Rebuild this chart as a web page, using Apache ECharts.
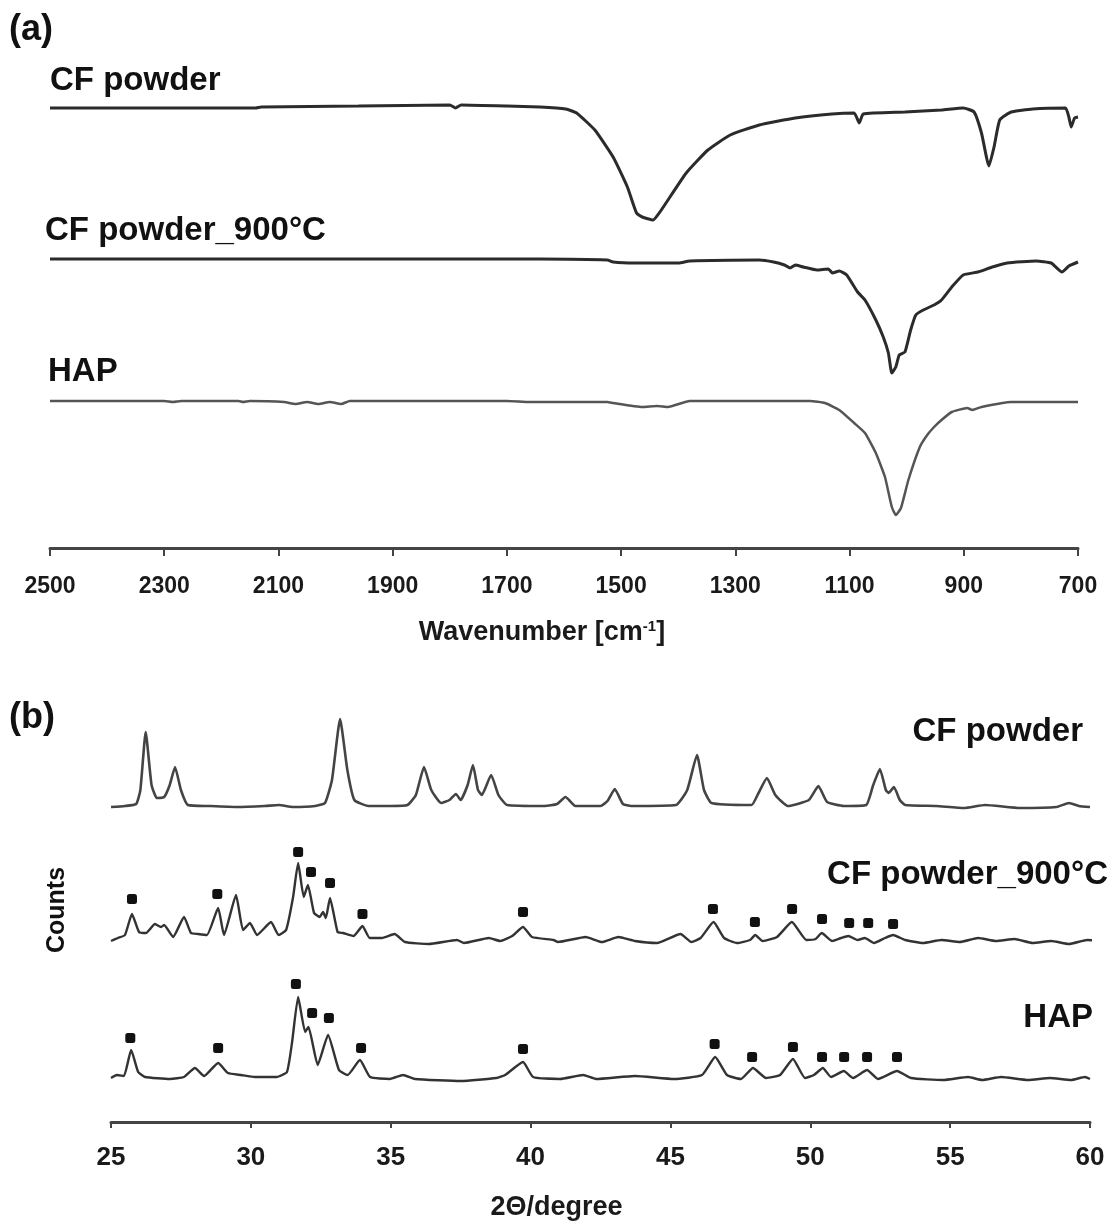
<!DOCTYPE html>
<html>
<head>
<meta charset="utf-8">
<title>FTIR and XRD of CF powder</title>
<script src="https://cdn.jsdelivr.net/npm/echarts@6/dist/echarts.min.js"></script>
<style>
  html, body { margin: 0; padding: 0; background: #fff; }
  #main { width: 1113px; height: 1225px; }
</style>
</head>
<body>
<div id="main"></div>
<script>
// (a) FTIR: [wavenumber cm-1, transmittance a.u.] (curves are stacked)
const ftirCfPowder = [
    [2500, 440], [2300, 440], [2140, 440], [2130, 441], [1960, 442], [1800, 443], [1790, 440],
    [1780, 443], [1700, 442], [1642, 441], [1597, 439], [1578, 435], [1546, 418], [1514, 391],
    [1489, 361], [1473, 335], [1463, 331], [1444, 328], [1432, 336], [1386, 375], [1348, 398],
    [1309, 413], [1258, 423], [1195, 430], [1131, 434], [1092, 435], [1083, 425], [1076, 434],
    [1003, 436], [939, 438], [901, 440], [882, 436], [869, 415], [856, 382], [847, 401],
    [837, 428], [817, 436], [779, 439], [722, 440], [716, 431], [712, 421], [706, 430], [700, 431]
];
const ftirCf900 = [
    [2500, 289], [2200, 289], [1900, 289], [1642, 289], [1524, 288], [1514, 286], [1476, 285],
    [1399, 285], [1380, 287], [1258, 288], [1233, 286], [1214, 283], [1204, 280], [1195, 283],
    [1181, 281], [1157, 278], [1137, 279], [1130, 275], [1118, 277], [1105, 273], [1086, 256],
    [1073, 248], [1054, 228], [1041, 211], [1032, 195], [1026, 175], [1019, 181], [1013, 193],
    [1003, 196], [993, 218], [984, 233], [971, 238], [952, 243], [939, 248], [921, 261],
    [901, 273], [875, 276], [850, 281], [824, 285], [773, 287], [747, 285], [728, 276],
    [716, 282], [700, 286]
];
const ftirHap = [
    [2500, 147], [2300, 147], [2285, 146], [2270, 147], [2170, 147], [2162, 146], [2150, 147],
    [2090, 146], [2070, 144], [2050, 146], [2030, 144], [2010, 146], [1990, 144], [1975, 147],
    [1700, 147], [1660, 146], [1524, 146], [1514, 145], [1463, 141], [1437, 142], [1418, 141],
    [1380, 147], [1169, 147], [1143, 145], [1118, 138], [1092, 125], [1073, 115], [1054, 95],
    [1038, 71], [1026, 41], [1019, 33], [1010, 40], [997, 68], [977, 101], [964, 113],
    [952, 121], [939, 128], [921, 136], [894, 140], [885, 138], [869, 141], [817, 146], [700, 146]
];
const ftirTicks = [2500, 2300, 2100, 1900, 1700, 1500, 1300, 1100, 900, 700];

// (b) XRD: [2theta degree, counts a.u.] (curves are stacked)
const xrdCfPowder = [
    [25.0, 315], [25.5, 316], [25.9, 318], [26.05, 332], [26.24, 390], [26.45, 337], [26.64, 324],
    [26.9, 325], [27.1, 337], [27.29, 355], [27.5, 332], [27.75, 317], [28.5, 316], [29.5, 315],
    [30.5, 316], [31.0, 317], [31.5, 315], [32.3, 316], [32.65, 319], [32.9, 342], [33.19, 403],
    [33.45, 352], [33.7, 322], [34.2, 316], [35.0, 316], [35.6, 317], [35.9, 327], [36.19, 355],
    [36.45, 332], [36.8, 319], [37.1, 322], [37.33, 328], [37.5, 322], [37.75, 337], [37.94, 357],
    [38.12, 332], [38.26, 327], [38.59, 347], [38.85, 327], [39.16, 317], [40.5, 316], [40.95, 318],
    [41.25, 325], [41.6, 316], [42.5, 316], [42.75, 321], [43.01, 333], [43.3, 318], [43.6, 316],
    [45.2, 317], [45.6, 332], [45.95, 367], [46.2, 332], [46.47, 319], [47.9, 317], [48.15, 329],
    [48.45, 344], [48.75, 327], [49.2, 316], [49.95, 322], [50.29, 336], [50.6, 320], [51.2, 316],
    [52.0, 317], [52.25, 337], [52.49, 353], [52.7, 332], [52.8, 329], [52.99, 335], [53.2, 322],
    [53.39, 317], [54.5, 316], [55.5, 314], [56.25, 317], [57.5, 314], [58.8, 315], [59.25, 319],
    [59.6, 316], [60.0, 315]
];
const xrdCf900 = [
    [25.0, 181], [25.25, 184], [25.5, 187], [25.75, 208], [26.0, 190], [26.25, 189], [26.57, 198],
    [26.79, 195], [26.9, 197], [27.22, 185], [27.61, 205], [27.86, 189], [28.11, 188], [28.43, 187],
    [28.83, 214], [29.04, 187], [29.47, 227], [29.72, 192], [29.97, 199], [30.22, 187], [30.72, 200],
    [30.99, 187], [31.26, 192], [31.51, 225], [31.69, 259], [31.89, 225], [32.04, 237], [32.26, 209],
    [32.46, 205], [32.58, 210], [32.68, 204], [32.83, 224], [33.1, 190], [33.29, 189], [33.67, 186],
    [33.99, 196], [34.25, 184], [34.69, 184], [35.14, 188], [35.51, 180], [36.36, 178], [37.37, 182],
    [37.62, 179], [38.51, 184], [38.91, 181], [39.34, 186], [39.73, 195], [40.05, 185], [40.82, 182],
    [40.98, 180], [41.97, 185], [42.55, 180], [43.14, 185], [43.73, 181], [44.52, 179], [45.36, 188],
    [45.75, 180], [46.08, 184], [46.54, 200], [46.92, 184], [47.38, 179], [47.85, 182], [48.03, 187],
    [48.3, 181], [48.81, 185], [49.34, 200], [49.86, 182], [50.19, 183], [50.41, 189], [50.78, 181],
    [51.1, 184], [51.36, 186], [51.69, 182], [51.95, 184], [52.28, 179], [52.67, 184], [52.96, 187],
    [53.39, 182], [54.03, 179], [54.69, 182], [55.35, 180], [56.0, 184], [56.64, 181], [57.3, 183],
    [57.95, 179], [58.61, 181], [59.25, 178], [59.9, 182], [60.5, 181]
];
const xrdHap = [
    [25.0, 44], [25.21, 47], [25.46, 46], [25.72, 72], [25.97, 50], [26.22, 45], [27.11, 43],
    [27.61, 45], [28.0, 54], [28.33, 46], [28.83, 59], [29.18, 49], [29.65, 47], [30.15, 45],
    [30.92, 45], [31.29, 50], [31.47, 79], [31.69, 125], [31.94, 90], [32.06, 95], [32.39, 57],
    [32.76, 87], [33.15, 52], [33.46, 47], [33.9, 62], [34.26, 45], [34.97, 43], [35.44, 47],
    [35.87, 43], [37.51, 41], [38.78, 44], [39.09, 47], [39.73, 60], [40.09, 45], [41.05, 43],
    [41.88, 47], [42.34, 43], [43.73, 46], [45.13, 43], [46.13, 47], [46.6, 65], [47.02, 47],
    [47.52, 43], [47.95, 54], [48.42, 44], [48.92, 47], [49.38, 63], [49.81, 44], [50.13, 47],
    [50.45, 54], [50.74, 45], [51.2, 51], [51.53, 44], [52.03, 52], [52.42, 43], [53.1, 51],
    [53.6, 44], [54.75, 42], [55.64, 45], [56.14, 42], [56.82, 45], [57.79, 42], [58.57, 44],
    [59.32, 42], [59.82, 45], [60.0, 43]
];
// HAP reflection markers (filled squares)
const markers900 = [
    [25.75, 223], [28.8, 228], [31.69, 270], [32.15, 250], [32.83, 239], [33.99, 208], [39.73, 210],
    [46.52, 213], [48.02, 200], [49.35, 213], [50.42, 203], [51.39, 199], [52.07, 199], [52.96, 198]
];
const markersHap = [
    [25.69, 84], [28.83, 74], [31.61, 138], [32.19, 109], [32.79, 104], [33.94, 74], [39.73, 73],
    [46.58, 78], [47.92, 65], [49.38, 75], [50.42, 65], [51.21, 65], [52.03, 65], [53.1, 65]
];

const FONT = '"Liberation Sans", Arial, sans-serif';
const INK = '#1a1a1a';

var myChart = echarts.init(document.getElementById('main'));

function axisStyle(labelSize) {
    return {
        axisLine: { show: true, onZero: false, lineStyle: { color: '#444', width: 3 } },
        axisTick: { show: true, length: 7, lineStyle: { color: '#444', width: 2 } },
        splitLine: { show: false },
        axisLabel: {
            color: INK, fontFamily: FONT, fontWeight: 'bold', fontSize: labelSize,
            formatter: function (v) { return String(v); }
        },
        nameTextStyle: { color: INK, fontFamily: FONT, fontWeight: 'bold', fontSize: 27 }
    };
}

function lineSeries(name, data, axis, color, width) {
    return {
        name: name,
        type: 'line',
        xAxisIndex: axis,
        yAxisIndex: axis,
        data: data,
        showSymbol: false,
        smooth: 0.15,
        clip: false,
        lineStyle: { color: color, width: width },
        silent: true
    };
}

function markerSeries(data) {
    return {
        type: 'scatter',
        xAxisIndex: 1,
        yAxisIndex: 1,
        data: data,
        symbol: 'roundRect',
        symbolSize: 10,
        itemStyle: { color: '#111', opacity: 1 },
        silent: true
    };
}

function label(text, x, y, align, size) {
    return {
        type: 'text',
        x: x,
        y: y,
        style: {
            text: text,
            fill: '#111',
            font: 'bold ' + (size || 33) + 'px ' + FONT,
            textAlign: align || 'left',
            textVerticalAlign: 'middle'
        }
    };
}

const xA = axisStyle(23);
xA.gridIndex = 0;
xA.type = 'value';
xA.inverse = true;
xA.min = 700;
xA.max = 2500;
xA.axisTick.length = 8;
xA.axisTick.customValues = ftirTicks;
xA.axisLabel.customValues = ftirTicks;
xA.axisLabel.margin = 27;
xA.name = '{n|Wavenumber [cm}{s|-1}{n|]}';
xA.nameLocation = 'middle';
xA.nameGap = 71;
xA.nameTextStyle.padding = [0, 44, 0, 0];
xA.nameTextStyle.rich = {
    n: { fontFamily: FONT, fontWeight: 'bold', fontSize: 27, color: INK },
    s: { fontFamily: FONT, fontWeight: 'bold', fontSize: 15, color: INK, padding: [0, 0, 13, 0] }
};

const xB = axisStyle(26);
xB.gridIndex = 1;
xB.type = 'value';
xB.min = 25;
xB.max = 60;
xB.interval = 5;
xB.axisTick.length = 6;
xB.axisLabel.margin = 23;
xB.name = '2\u0398/degree';
xB.nameLocation = 'middle';
xB.nameGap = 72;
xB.nameTextStyle.padding = [0, 88, 0, 0];

option = {
    animation: false,
    backgroundColor: '#fff',
    grid: [
        { left: 50, right: 35, top: 60, bottom: 677 },
        { left: 111, right: 23, top: 700, bottom: 103 }
    ],
    xAxis: [xA, xB],
    yAxis: [
        { gridIndex: 0, type: 'value', min: 0, max: 488, show: false },
        { gridIndex: 1, type: 'value', min: 0, max: 422, show: false }
    ],
    series: [
        lineSeries('CF powder', ftirCfPowder, 0, '#2b2b2b', 3),
        lineSeries('CF powder_900°C', ftirCf900, 0, '#2b2b2b', 3),
        lineSeries('HAP', ftirHap, 0, '#555', 2.5),
        lineSeries('CF powder', xrdCfPowder, 1, '#444', 2.6),
        lineSeries('CF powder_900°C', xrdCf900, 1, '#333', 2.4),
        lineSeries('HAP', xrdHap, 1, '#333', 2.4),
        markerSeries(markers900),
        markerSeries(markersHap)
    ],
    graphic: [
        label('(a)', 9, 30, 'left', 36),
        label('(b)', 9, 718, 'left', 36),
        label('CF powder', 50, 81),
        label('CF powder_900°C', 45, 231),
        label('HAP', 48, 372),
        label('CF powder', 1083, 732, 'right'),
        label('CF powder_900°C', 1108, 875, 'right'),
        label('HAP', 1093, 1018, 'right'),
        {
            type: 'text',
            x: 57,
            y: 910,
            rotation: Math.PI / 2,
            style: {
                text: 'Counts',
                fill: '#111',
                font: 'bold 25px ' + FONT,
                textAlign: 'center',
                textVerticalAlign: 'middle'
            }
        }
    ]
};
option && myChart.setOption(option);
</script>
</body>
</html>
